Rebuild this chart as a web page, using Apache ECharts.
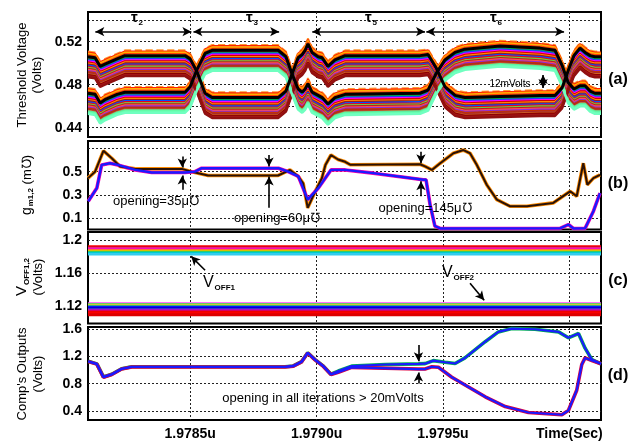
<!DOCTYPE html>
<html>
<head>
<meta charset="utf-8">
<script src="https://cdn.jsdelivr.net/npm/echarts@6/dist/echarts.min.js"></script>
<style>html,body{margin:0;padding:0;background:#fff;}#main{width:631px;height:441px;}</style>
</head>
<body>
<div id="main"></div>
<script>
// time axis in ns (1978.5 ns = 1.9785u)
var xMin = 1978.096, xMax = 1980.125;
var xTicks = [1978.5, 1979.0, 1979.5, 1980.0];
var xTickLabels = ['1.9785u', '1.9790u', '1.9795u', 'Time(Sec)'];

// (a) threshold voltage, black reference line of the two families
var vthTime = [1978.096, 1978.124, 1978.144, 1978.163, 1978.211, 1978.242, 1978.480, 1978.500, 1978.527, 1978.559,
  1978.587, 1978.848, 1978.879, 1978.903, 1978.927, 1978.943, 1978.955, 1978.966, 1978.982, 1979.006,
  1979.022, 1979.045, 1979.073, 1979.113, 1979.409, 1979.441, 1979.472, 1979.508, 1979.548, 1979.587,
  1979.726, 1979.884, 1979.943, 1979.971, 1979.995, 1980.018, 1980.042, 1980.062, 1980.082, 1980.101, 1980.125];
var vthA = [0.506, 0.505, 0.497, 0.499, 0.504, 0.507, 0.507, 0.504, 0.492, 0.472,
  0.468, 0.468, 0.474, 0.490, 0.505, 0.508, 0.512, 0.518, 0.510, 0.506,
  0.505, 0.497, 0.503, 0.507, 0.507, 0.508, 0.496, 0.478, 0.470, 0.468,
  0.469, 0.470, 0.470, 0.477, 0.493, 0.507, 0.514, 0.510, 0.507, 0.506, 0.506];
var vthB = [0.472, 0.471, 0.463, 0.466, 0.471, 0.473, 0.473, 0.478, 0.494, 0.509,
  0.512, 0.512, 0.506, 0.490, 0.476, 0.473, 0.476, 0.481, 0.473, 0.470,
  0.468, 0.462, 0.468, 0.471, 0.472, 0.475, 0.490, 0.503, 0.510, 0.513,
  0.516, 0.514, 0.512, 0.498, 0.482, 0.476, 0.479, 0.479, 0.474, 0.472, 0.472];
// spread of the iterations below the black line (Volts)
var bandOffsets = [-0.0050, -0.0040, -0.0030, -0.0016, 0, 0.0011, 0.0021, 0.0031, 0.0041, 0.0051, 0.0061, 0.0071,
  0.0081, 0.0091, 0.0101, 0.0111, 0.0121, 0.0131, 0.0141, 0.0151, 0.0161, 0.0171, 0.0181, 0.0191];
var bandColorsA = ['#ff9933', '#ff2200', '#ffb000', '#ff4400', '#000000', '#ff0000', '#00a650', '#1f3fff', '#ff00ff',
  '#d40000', '#ff8800', '#a01818', '#0050ff', '#e8001c', '#6bcf3c', '#b52020', '#ff5050', '#8e2bd6', '#c83200',
  '#a52a2a', '#d06020', '#8b0000', '#a31515', '#901010'];
var bandColorsB = ['#ff9933', '#ff2200', '#ffb000', '#ff4400', '#000000', '#ff0000', '#00a650', '#1f3fff', '#ff00ff',
  '#d40000', '#ff8800', '#a01818', '#0050ff', '#e8001c', '#6bcf3c', '#b52020', '#ff5050', '#8e2bd6', '#c83200',
  '#a52a2a', '#d06020', '#5de8a0', '#66ffaa', '#70ffc0'];

// (b) transconductance gm1,2 (m mho)
var gmHiTime = [1978.096, 1978.124, 1978.157, 1978.190, 1978.223, 1978.283, 1978.467, 1978.506, 1978.571, 1978.848,
  1978.895, 1978.927, 1978.947, 1978.965, 1978.995, 1979.021, 1979.035, 1979.057, 1979.085, 1979.113,
  1979.133, 1979.409, 1979.429, 1979.456, 1979.489, 1979.541, 1979.581, 1979.607, 1979.634, 1979.673,
  1979.713, 1979.765, 1979.832, 1979.936, 1980.003, 1980.029, 1980.055, 1980.071, 1980.095, 1980.121];
var gmHi = [0.444, 0.500, 0.680, 0.616, 0.545, 0.524, 0.524, 0.500, 0.467, 0.467,
  0.515, 0.459, 0.400, 0.187, 0.330, 0.444, 0.558, 0.644, 0.605, 0.585,
  0.560, 0.564, 0.545, 0.515, 0.573, 0.659, 0.687, 0.659, 0.558, 0.387,
  0.258, 0.201, 0.201, 0.230, 0.330, 0.287, 0.573, 0.387, 0.444, 0.473];
var gmLoTime = [1978.097, 1978.131, 1978.150, 1978.183, 1978.214, 1978.283, 1978.348, 1978.480, 1978.519, 1978.546,
  1978.849, 1978.888, 1978.928, 1978.965, 1979.007, 1979.057, 1979.113, 1979.224, 1979.422, 1979.433,
  1979.449, 1979.468, 1979.489, 1979.963, 1979.996, 1980.016, 1980.062, 1980.095, 1980.121];
var gmLo = [0.244, 0.358, 0.558, 0.573, 0.558, 0.515, 0.493, 0.493, 0.500, 0.530,
  0.530, 0.500, 0.459, 0.258, 0.358, 0.515, 0.515, 0.487, 0.430, 0.430,
  0.215, 0.030, 0.009, 0.010, 0.043, 0.009, 0.010, 0.158, 0.315];

// (c) comparator offsets, one constant level per iteration
var voff1 = [1.1918, 1.1909, 1.1900, 1.1891, 1.1882, 1.1872, 1.1860, 1.1849, 1.1837, 1.1826];
var voff1Colors = ['#ff0000', '#d00000', '#ff1a66', '#e0289b', '#ff00cc', '#ff9900', '#cccc00', '#33cc66', '#00cccc', '#33ccee'];
var voff2 = [1.1232, 1.1222, 1.1212, 1.1200, 1.1186, 1.1174, 1.1162, 1.1148, 1.1134, 1.1120, 1.1106, 1.1096];
var voff2Colors = ['#ff44ff', '#66cc66', '#cccc33', '#33aa88', '#1010ff', '#0000dd', '#3333cc', '#cc00cc', '#e00000', '#ff0000', '#ee0000', '#dd0000'];

// (d) comparator outputs
var compHiTime = [1978.097, 1978.131, 1978.157, 1978.190, 1978.229, 1978.269, 1978.875, 1978.908, 1978.941, 1978.965,
  1978.994, 1979.027, 1979.057, 1979.086, 1979.139, 1979.271, 1979.403, 1979.429, 1979.462, 1979.508,
  1979.548, 1979.587, 1979.667, 1979.719, 1979.772, 1979.864, 1979.957, 1979.996, 1980.036, 1980.062,
  1980.089, 1980.125];
var compHi = [1.128, 1.090, 0.899, 0.938, 1.019, 1.048, 1.048, 1.060, 1.124, 1.253,
  1.153, 1.057, 0.938, 0.985, 1.057, 1.081, 1.090, 1.093, 1.138, 1.114,
  1.095, 1.177, 1.415, 1.558, 1.607, 1.597, 1.558, 1.472, 1.535, 1.320,
  1.153, 1.091];
var compLoTime = [1978.097, 1978.131, 1978.157, 1978.190, 1978.229, 1978.269, 1978.875, 1978.908, 1978.941, 1978.965,
  1978.994, 1979.027, 1979.057, 1979.086, 1979.139, 1979.403, 1979.429, 1979.456, 1979.482, 1979.535,
  1979.667, 1979.746, 1979.838, 1979.970, 1979.996, 1980.029, 1980.049, 1980.062, 1980.089, 1980.125];
var compLo = [1.124, 1.086, 0.895, 0.934, 1.015, 1.044, 1.044, 1.056, 1.120, 1.249,
  1.149, 1.053, 0.934, 0.966, 1.038, 1.014, 1.014, 1.048, 1.040, 0.895,
  0.608, 0.465, 0.378, 0.345, 0.407, 0.704, 1.081, 1.177, 1.140, 1.091];

var FONT = 'Liberation Sans, Arial, sans-serif';

function zip(t, v, off) {
  return t.map(function (x, i) { return [x, v[i] - (off || 0)]; });
}

var grids = [
  { left: 88, top: 12, width: 513, height: 125 },
  { left: 88, top: 141, width: 513, height: 88.5 },
  { left: 88, top: 232, width: 513, height: 91.5 },
  { left: 88, top: 327, width: 513, height: 94.5 }
].map(function (g) {
  g.show = true; g.borderColor = '#000'; g.borderWidth = 2; g.backgroundColor = '#fff';
  return g;
});

var dotted = { color: '#222', width: 1, type: [2, 2] };

var xAxes = grids.map(function (g, i) {
  return {
    type: 'value', gridIndex: i, min: xMin, max: xMax,
    axisLine: { show: false },
    axisTick: { show: false, customValues: xTicks },
    splitLine: { show: true, lineStyle: dotted },
    axisLabel: {
      show: i === 3, customValues: xTicks, margin: 7,
      fontFamily: FONT, fontWeight: 'bold', fontSize: 14, color: '#000',
      formatter: function (v) {
        for (var k = 0; k < xTicks.length; k++) if (Math.abs(xTicks[k] - v) < 1e-6) return xTickLabels[k];
        return '';
      }
    }
  };
});

function yAx(i, min, max, grid, labels, dec) {
  return {
    type: 'value', gridIndex: i, min: min, max: max,
    axisLine: { show: false },
    axisTick: { show: false, customValues: grid },
    splitLine: { show: true, lineStyle: dotted },
    axisLabel: {
      customValues: labels, margin: 6,
      fontFamily: FONT, fontWeight: 'bold', fontSize: 14, color: '#000',
      formatter: function (v) { return String(+v.toFixed(dec)); }
    }
  };
}

var yAxes = [
  yAx(0, 0.4313, 0.5476, [0.44, 0.46, 0.48, 0.50, 0.52, 0.54], [0.44, 0.48, 0.52], 2),
  yAx(1, 0.0, 0.765, [0.1, 0.3, 0.5, 0.7], [0.1, 0.3, 0.5], 1),
  yAx(2, 1.0992, 1.2094, [1.12, 1.16, 1.2], [1.12, 1.16, 1.2], 2),
  yAx(3, 0.268, 1.63, [0.4, 0.8, 1.2, 1.6], [0.4, 0.8, 1.2, 1.6], 1)
];

function line(i, data, color, width, z, type) {
  return {
    type: 'line', xAxisIndex: i, yAxisIndex: i, data: data, showSymbol: false, symbol: 'none',
    lineStyle: { color: color, width: width, type: type || 'solid' }, z: z || 2, silent: true
  };
}

var series = [];
// (a) both families
bandOffsets.forEach(function (off, k) {
  var isBlack = off === 0, isLast = k >= bandOffsets.length - 3;
  series.push(line(0, zip(vthTime, vthA, off), bandColorsA[k], isBlack ? 3 : (isLast ? 2.4 : 1.8), isBlack ? 5 : 2, k === 0 ? 'dashed' : 'solid'));
  series.push(line(0, zip(vthTime, vthB, off), bandColorsB[k], isBlack ? 3 : (isLast ? 2.6 : 1.8), isBlack ? 5 : 2, k === 0 ? 'dashed' : 'solid'));
});

function arrows(pairs, heads) {
  return {
    silent: true, animation: false, symbol: heads, symbolSize: [7, 9],
    label: { show: false }, emphasis: { disabled: true },
    lineStyle: { color: '#000', width: 1.6, type: 'solid' },
    data: pairs.map(function (p) { return [{ coord: [p[0], p[1]] }, { coord: [p[2], p[3]] }]; })
  };
}

// tau spans + 12mVolts
var tauArrowY = 0.5293;
var aMarks = line(0, [], '#000', 1, 6);
aMarks.markLine = arrows([
  [1978.125, tauArrowY, 1978.505, tauArrowY],
  [1978.513, tauArrowY, 1978.852, tauArrowY],
  [1978.983, tauArrowY, 1979.429, tauArrowY],
  [1979.434, tauArrowY, 1979.979, tauArrowY],
  [1979.896, 0.4769, 1979.896, 0.4890]
], ['arrow', 'arrow']);
series.push(aMarks);

// (b)
series.push(line(1, zip(gmHiTime, gmHi), '#ff8c00', 3.6, 2));
series.push(line(1, zip(gmHiTime, gmHi), '#2a1208', 2, 3));
series.push(line(1, zip(gmLoTime, gmLo), '#ff00aa', 3.6, 2));
series.push(line(1, zip(gmLoTime, gmLo), '#1a1aff', 2.4, 3));
var bMarks = line(1, [], '#000', 1, 6);
bMarks.markLine = arrows([
  [1978.469, 0.630, 1978.469, 0.536], [1978.469, 0.344, 1978.469, 0.467],
  [1978.812, 0.644, 1978.812, 0.545], [1978.812, 0.187, 1978.812, 0.459],
  [1979.413, 0.673, 1979.413, 0.573], [1979.413, 0.287, 1979.413, 0.416]
], ['none', 'arrow']);
series.push(bMarks);

// (c)
voff1.forEach(function (v, k) { series.push(line(2, [[xMin, v], [xMax, v]], voff1Colors[k], 2.6, 2)); });
voff2.forEach(function (v, k) { series.push(line(2, [[xMin, v], [xMax, v]], voff2Colors[k], 2.6, 2)); });
var cMarks = line(2, [], '#000', 1, 6);
cMarks.markLine = arrows([
  [1978.559, 1.1633, 1978.504, 1.1801],
  [1979.607, 1.1477, 1979.663, 1.1272]
], ['none', 'arrow']);
series.push(cMarks);

// (d)
series.push(line(3, zip(compHiTime, compHi), '#00b050', 3.6, 2));
series.push(line(3, zip(compLoTime, compLo), '#e0003c', 3.6, 2));
series.push(line(3, zip(compHiTime, compHi), '#1a1aff', 2.2, 3));
series.push(line(3, zip(compLoTime, compLo), '#1a1aff', 2.2, 3));
var dMarks = line(3, [], '#000', 1, 6);
dMarks.markLine = arrows([
  [1979.403, 1.368, 1979.403, 1.128], [1979.403, 0.804, 1979.403, 0.962]
], ['none', 'arrow']);
series.push(dMarks);

function txt(x, y, text, size, weight, rot, rich) {
  var o = {
    type: 'text', x: x, y: y, z: 100, silent: true,
    style: { text: text, fill: '#000', align: 'center', verticalAlign: 'middle',
      font: (weight || 'normal') + ' ' + size + 'px ' + FONT }
  };
  if (rot) o.rotation = Math.PI / 2;
  if (rich) o.style.rich = rich;
  return o;
}

// big letter + lowered small subscript, same line box
function subRich(big, small, weight) {
  return {
    b: { fontFamily: FONT, fontSize: big, fontWeight: weight, lineHeight: big + 2, verticalAlign: 'middle', fill: '#000' },
    s: { fontFamily: FONT, fontSize: small, fontWeight: 'bold', lineHeight: big + 2, verticalAlign: 'bottom', fill: '#000', padding: [0, 0, 0, 1] },
    n: { fontFamily: FONT, fontSize: 13, lineHeight: big + 2, verticalAlign: 'middle', fill: '#000' }
  };
}

var graphics = [
  txt(22, 75, 'Threshold Voltage', 13, 'normal', true),
  txt(37, 75, '(Volts)', 13, 'normal', true),
  txt(27, 185, '{b|g}{s|m1,2}{n| (m\u2127)}', 13, 'normal', true, subRich(14, 8, 'normal')),
  txt(22, 277, '{b|V}{s|OFF1,2}', 14, 'normal', true, subRich(15, 8, 'normal')),
  txt(38, 277, '(Volts)', 13, 'normal', true),
  txt(22, 374, "Comp's Outputs", 13, 'normal', true),
  txt(38, 374, '(Volts)', 13, 'normal', true),
  txt(618, 80, '(a)', 16, 'bold'),
  txt(618, 184, '(b)', 16, 'bold'),
  txt(618, 281, '(c)', 16, 'bold'),
  txt(618, 376, '(d)', 16, 'bold'),
  txt(137, 18, '{b|\u03c4}{s|2}', 14, 'bold', false, subRich(15, 8, 'bold')),
  txt(252, 18, '{b|\u03c4}{s|3}', 14, 'bold', false, subRich(15, 8, 'bold')),
  txt(371, 18, '{b|\u03c4}{s|5}', 14, 'bold', false, subRich(15, 8, 'bold')),
  txt(496, 18, '{b|\u03c4}{s|6}', 14, 'bold', false, subRich(15, 8, 'bold')),
  txt(510, 84, '12mVolts', 10, 'normal'),
  txt(156, 201, 'opening=35\u03bc\u2127', 13, 'normal'),
  txt(277, 218, 'opening=60\u03bc\u2127', 13, 'normal'),
  txt(425, 208, 'opening=145\u03bc\u2127', 13, 'normal'),
  txt(219, 283, '{b|V}{s|OFF1}', 14, 'normal', false, subRich(16, 8, 'normal')),
  txt(458, 273, '{b|V}{s|OFF2}', 14, 'normal', false, subRich(16, 8, 'normal')),
  txt(323, 398, 'opening in all iterations > 20mVolts', 13, 'normal')
];

var chart = echarts.init(document.getElementById('main'));
chart.setOption({
  animation: false,
  backgroundColor: '#fff',
  grid: grids,
  xAxis: xAxes,
  yAxis: yAxes,
  series: series,
  graphic: graphics
});
window.onresize = function () { chart.resize(); };
</script>
</body>
</html>
